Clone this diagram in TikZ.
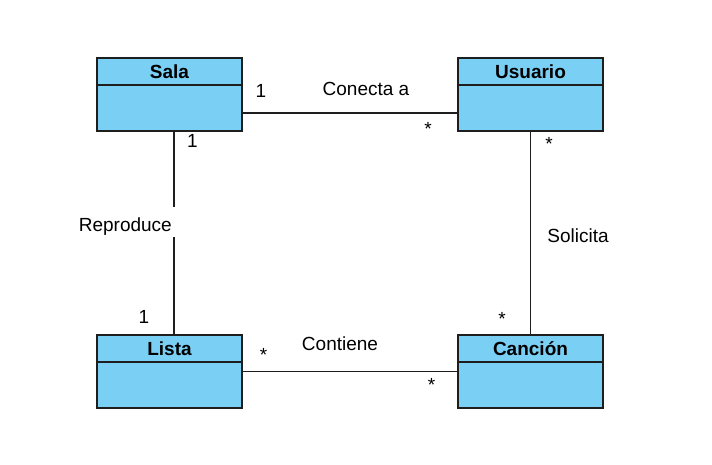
\documentclass[tikz,border=0pt]{standalone}
\usepackage{fontspec}
\setmainfont{Liberation Sans}
\definecolor{classfill}{RGB}{122,207,245}
\definecolor{edge}{RGB}{30,30,30}
\begin{document}
\begin{tikzpicture}[x=1pt,y=-1pt,
  every node/.style={font=\fontsize{19}{23}\selectfont},
  classbox/.style={draw=edge,line width=1.5pt,fill=classfill,minimum width=145pt,minimum height=73pt,inner sep=0pt},
  classtitle/.style={draw=edge,line width=1.5pt,fill=classfill,minimum width=145pt,minimum height=27pt,inner sep=0pt,text height=14pt,text depth=0pt,anchor=north,font=\fontsize{19}{23}\selectfont\bfseries},
  assoc/.style={draw=edge,line width=1.4pt},
  lbl/.style={inner sep=0pt,anchor=base},
  gaplbl/.style={fill=white,inner xsep=4pt,inner ysep=0pt,text height=25pt,text depth=5pt,anchor=base east}
]
\useasboundingbox (0,0) rectangle (712,465);
% classes
\node[classbox] (sala) at (169.5,94.5) {};
\node[classtitle] (salat) at (sala.north) {Sala};
\node[classbox] (usuario) at (530.5,94.5) {};
\node[classtitle] (usuariot) at (usuario.north) {Usuario};
\node[classbox] (lista) at (169.5,371.5) {};
\node[classtitle] (listat) at (lista.north) {Lista};
\node[classbox] (cancion) at (530.5,371.5) {};
\node[classtitle] (canciont) at (cancion.north) {Canción};
% associations
\draw[assoc] ([yshift=-18.5pt]sala.east) -- ([yshift=-18.5pt]usuario.west);
\draw[assoc] ([xshift=4.5pt]sala.south) -- ([xshift=4.5pt]lista.north);
\draw[assoc] (usuario.south) -- (cancion.north);
\draw[assoc] (lista.east) -- (cancion.west);
% labels
\node[lbl] (l1) at (261,98) {1};
\node[lbl] (conecta) at (366,96) {Conecta a};
\node[lbl] (s1) at (428,136) {*};
\node[lbl] (l2) at (192.5,148) {1};
\node[lbl] (s2) at (549,151) {*};
\node[gaplbl] (reproduce) at (176,232) {Reproduce};
\node[lbl] (solicita) at (578,243) {Solicita};
\node[lbl] (l3) at (144,323) {1};
\node[lbl] (s3) at (502,325) {*};
\node[lbl] (s4) at (263.5,361) {*};
\node[lbl] (contiene) at (340,350) {Contiene};
\node[lbl] (s5) at (431.5,391) {*};
\end{tikzpicture}
\end{document}
